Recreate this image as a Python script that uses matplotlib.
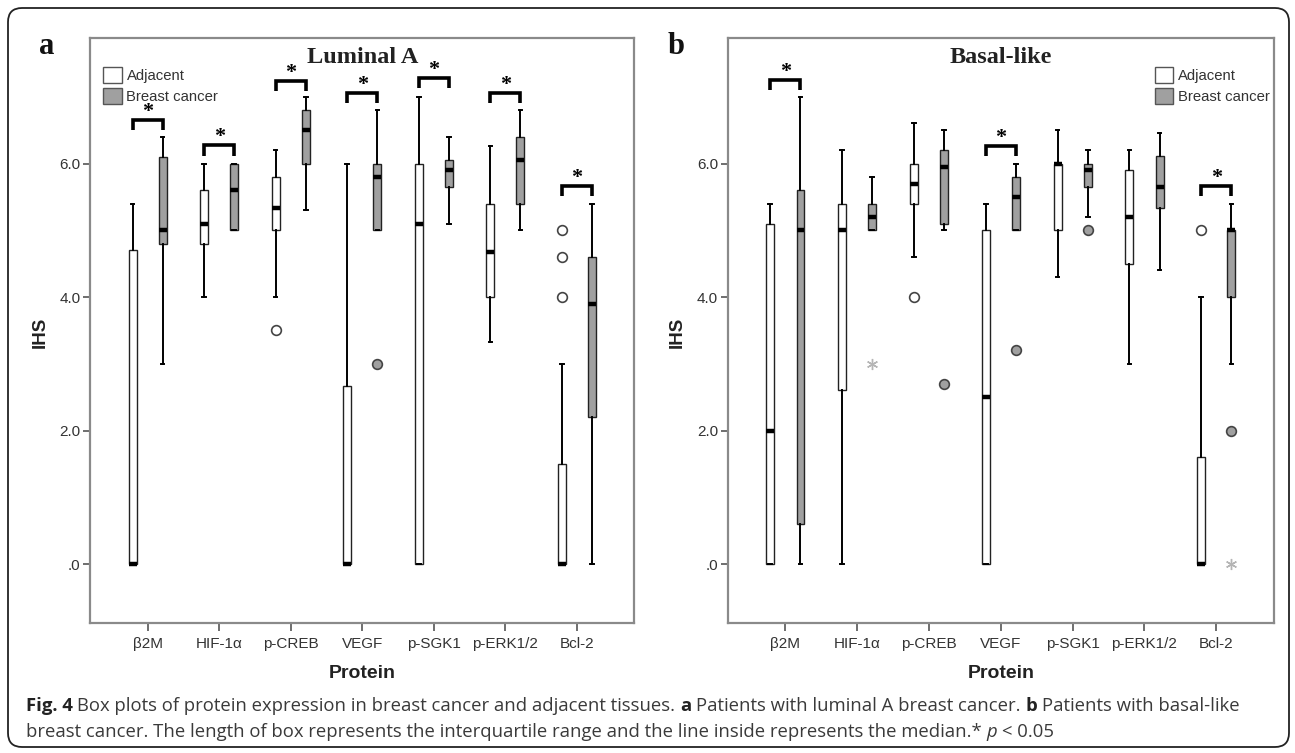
import numpy as np
import matplotlib
matplotlib.use("Agg")
import matplotlib.pyplot as plt
from matplotlib.patches import Patch, FancyBboxPatch
from matplotlib.transforms import IdentityTransform

# категории
proteins = ["β2M", "HIF-1α", "p-CREB", "VEGF", "p-SGK1", "p-ERK1/2", "Bcl-2"]

# Luminal A, Adjacent
la_adj_wlo = [0, 4.0, 4.0, 0, 0, 3.33, 0]
la_adj_q1 = [0, 4.8, 5.0, 0, 0, 4.0, 0]
la_adj_med = [0, 5.1, 5.33, 0, 5.1, 4.67, 0]
la_adj_q3 = [4.7, 5.6, 5.8, 2.66, 6.0, 5.4, 1.5]
la_adj_whi = [5.4, 6.0, 6.2, 6.0, 7.0, 6.26, 3.0]
la_adj_out = [(2, 3.5), (6, 5.0), (6, 4.6), (6, 4.0)]
la_adj_ext = []

# Luminal A, Breast cancer
la_bc_wlo = [3.0, 5.0, 5.3, 5.0, 5.1, 5.0, 0]
la_bc_q1 = [4.8, 5.0, 6.0, 5.0, 5.65, 5.4, 2.2]
la_bc_med = [5.0, 5.6, 6.5, 5.8, 5.9, 6.05, 3.9]
la_bc_q3 = [6.1, 6.0, 6.8, 6.0, 6.05, 6.4, 4.6]
la_bc_whi = [6.4, 6.0, 7.0, 6.8, 6.4, 6.8, 5.4]
la_bc_out = [(3, 3.0)]
la_bc_ext = []

# Basal-like, Adjacent
bl_adj_wlo = [0, 0, 4.6, 0, 4.3, 3.0, 0]
bl_adj_q1 = [0, 2.6, 5.4, 0, 5.0, 4.5, 0]
bl_adj_med = [2.0, 5.0, 5.7, 2.5, 6.0, 5.2, 0]
bl_adj_q3 = [5.1, 5.4, 6.0, 5.0, 6.0, 5.9, 1.6]
bl_adj_whi = [5.4, 6.2, 6.6, 5.4, 6.5, 6.2, 4.0]
bl_adj_out = [(2, 4.0), (6, 5.0)]
bl_adj_ext = []

# Basal-like, Breast cancer
bl_bc_wlo = [0, 5.0, 5.0, 5.0, 5.2, 4.4, 3.0]
bl_bc_q1 = [0.6, 5.0, 5.1, 5.0, 5.65, 5.33, 4.0]
bl_bc_med = [5.0, 5.2, 5.95, 5.5, 5.9, 5.65, 5.0]
bl_bc_q3 = [5.6, 5.4, 6.2, 5.8, 6.0, 6.12, 5.0]
bl_bc_whi = [7.0, 5.8, 6.5, 6.0, 6.2, 6.45, 5.4]
bl_bc_out = [(2, 2.7), (3, 3.2), (4, 5.0), (6, 2.0)]
bl_bc_ext = [(1, 3.0), (6, 0.0)]

# значимые различия: (категория, верх скобки)
la_sig = [(0, 6.65), (1, 6.27), (2, 7.24), (3, 7.05), (4, 7.28), (5, 7.05), (6, 5.66)]
bl_sig = [(0, 7.25), (3, 6.26), (6, 5.66)]

yticks = [0, 2, 4, 6]
ytick_labels = [".0", "2.0", "4.0", "6.0"]

GRAY = "#a0a0a0"
TICKFONT = ["Liberation Sans Narrow", "Liberation Sans"]


def stats(wlo, q1, med, q3, whi):
    return [dict(whislo=a, q1=b, med=c, q3=d, whishi=e, fliers=[])
            for a, b, c, d, e in zip(wlo, q1, med, q3, whi)]


def draw_group(ax, st, pos, face, out, ext):
    ax.bxp(st, positions=pos, widths=0.11, patch_artist=True, showfliers=False,
           capwidths=0.05, manage_ticks=False,
           boxprops=dict(facecolor=face, edgecolor="#222222", linewidth=1.0),
           medianprops=dict(color="black", linewidth=3.2, solid_capstyle="butt"),
           whiskerprops=dict(color="black", linewidth=1.4),
           capprops=dict(color="black", linewidth=1.4))
    for c, v in out:
        ax.plot(pos[c], v, "o", ms=7, mfc=face, mec="#444444", mew=1.2)
    # экстремальные значения - серые звёздочки
    for c, v in ext:
        ax.plot(pos[c], v, marker=(6, 2, 0), ms=8, mew=1.0, color="#b5b5b5")


def panel(ax, title, adj, bc, sig, legend_x):
    x = np.arange(len(proteins))
    draw_group(ax, stats(*adj[:5]), x - 0.21, "white", adj[5], adj[6])
    draw_group(ax, stats(*bc[:5]), x + 0.21, GRAY, bc[5], bc[6])

    # скобки со звёздочками
    for c, top in sig:
        x0, x1 = c - 0.21, c + 0.21
        ax.plot([x0, x0, x1, x1], [top - 0.15, top, top, top - 0.15],
                color="black", lw=2.6, solid_capstyle="butt", solid_joinstyle="miter")
        ax.text(c, top + 0.12, "*", ha="center", va="center", fontsize=16,
                family="Liberation Serif", weight="bold")

    ax.set_xlim(-0.8, 6.8)
    ax.set_ylim(-0.884, 7.88)
    ax.set_xticks(x)
    ax.set_xticklabels(proteins, family=TICKFONT, fontsize=11, color="#333333")
    ax.set_yticks(yticks)
    ax.set_yticklabels(ytick_labels, family=TICKFONT, fontsize=11, color="#333333")
    ax.tick_params(axis="x", length=6, width=1.2, color="#555555", pad=4)
    ax.tick_params(axis="y", length=5, width=1.2, color="#555555", pad=2)
    for s in ax.spines.values():
        s.set_color("#8a8a8a")
        s.set_linewidth(1.6)

    ax.set_xlabel("Protein", family="Liberation Sans", weight="bold", fontsize=14, color="#222222")
    ax.xaxis.label.set_va("center")
    ax.xaxis.set_label_coords(0.5, -0.0855)
    ax.set_ylabel("IHS", family="Liberation Sans", weight="bold", fontsize=13.5, color="#222222")
    ax.yaxis.label.set_va("center")
    ax.yaxis.set_label_coords(-0.093, 0.497)

    ax.text(0.5, 0.966, title, transform=ax.transAxes, ha="center", va="center",
            family="Liberation Serif", weight="bold", fontsize=17.5, color="#222222")

    handles = [Patch(facecolor="white", edgecolor="#555555", label="Adjacent"),
               Patch(facecolor=GRAY, edgecolor="#555555", label="Breast cancer")]
    leg = ax.legend(handles=handles, loc="upper left", bbox_to_anchor=(legend_x, 0.95),
                    frameon=False, borderpad=0, borderaxespad=0, handlelength=1.25,
                    handleheight=1.25, handletextpad=0.3, labelspacing=0.35,
                    prop={"family": TICKFONT, "size": 10.7})
    for t in leg.get_texts():
        t.set_color("#333333")


fig = plt.figure(figsize=(12.95, 7.53), dpi=100)
ax1 = fig.add_axes([0.0698, 0.1726, 0.4199, 0.7769])
ax2 = fig.add_axes([0.5621, 0.1726, 0.4215, 0.7769])

panel(ax1, "Luminal A",
      (la_adj_wlo, la_adj_q1, la_adj_med, la_adj_q3, la_adj_whi, la_adj_out, la_adj_ext),
      (la_bc_wlo, la_bc_q1, la_bc_med, la_bc_q3, la_bc_whi, la_bc_out, la_bc_ext),
      la_sig, 0.024)
panel(ax2, "Basal-like",
      (bl_adj_wlo, bl_adj_q1, bl_adj_med, bl_adj_q3, bl_adj_whi, bl_adj_out, bl_adj_ext),
      (bl_bc_wlo, bl_bc_q1, bl_bc_med, bl_bc_q3, bl_bc_whi, bl_bc_out, bl_bc_ext),
      bl_sig, 0.782)

# буквы панелей
fig.text(39 / 1295, 1 - 47 / 753, "a", family="Liberation Serif", weight="bold",
         fontsize=22, va="center", color="#111111")
fig.text(668 / 1295, 1 - 47 / 753, "b", family="Liberation Serif", weight="bold",
         fontsize=22, va="center", color="#111111")

# рамка со скруглением (в пикселях)
frame = FancyBboxPatch((8, 6), 1281, 739, boxstyle="round,pad=0,rounding_size=14",
                       transform=IdentityTransform(), fill=False, edgecolor="#222222", lw=1.3)
fig.add_artist(frame)

# подпись
CAP = 13.3
renderer = fig.canvas.get_renderer()


def text_w(s, **kw):
    t = fig.text(0, 0, s, fontsize=CAP, family="Open Sans", **kw)
    w = t.get_window_extent(renderer=renderer).width
    t.remove()
    return w


space = text_w("x x") - text_w("xx")


def caption_line(x, y, pieces):
    for s, kw, gap in pieces:
        t = fig.text(x / 1295, y, s, fontsize=CAP, family="Open Sans", va="baseline", **kw)
        x += t.get_window_extent(renderer=renderer).width + (space if gap else 0)


norm = dict(color="#3a3a3a")
bold = dict(color="#222222", weight="bold")
ital = dict(color="#3a3a3a", style="italic")

caption_line(25.7, (753 - 711) / 753, [
    ("Fig. 4", bold, True),
    ("Box plots of protein expression in breast cancer and adjacent tissues.", norm, True),
    ("a", bold, True),
    ("Patients with luminal A breast cancer.", norm, True),
    ("b", bold, True),
    ("Patients with basal-like", norm, False),
])
caption_line(25.7, (753 - 737) / 753, [
    ("breast cancer. The length of box represents the interquartile range and the line inside represents the median.*", norm, True),
    ("p", ital, True),
    ("< 0.05", norm, False),
])

fig.savefig("out.png", dpi=100)
